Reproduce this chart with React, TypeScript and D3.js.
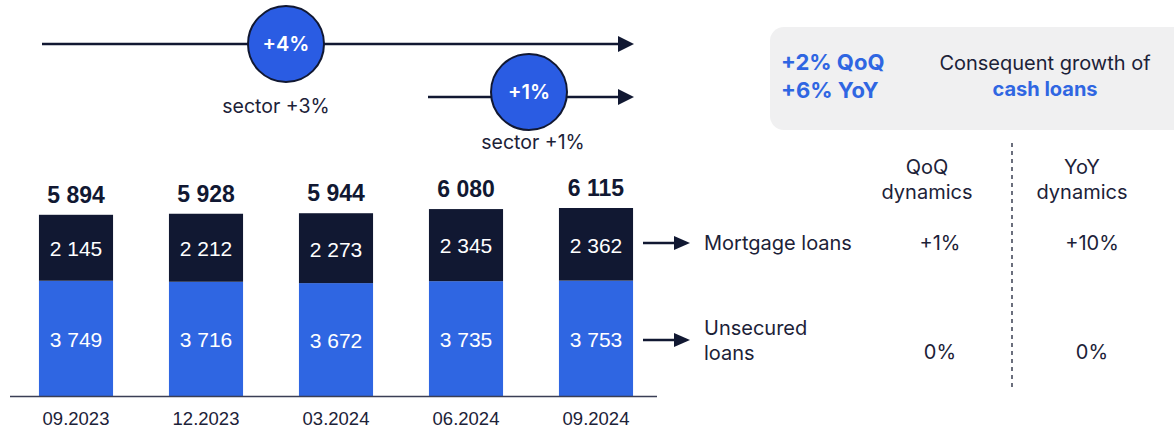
import React, { useEffect } from 'react';
import * as d3 from 'd3';

const periods = ['09.2023', '12.2023', '03.2024', '06.2024', '09.2024'];
const unsecured = [3749, 3716, 3672, 3735, 3753];
const mortgage = [2145, 2212, 2273, 2345, 2362];
const totals = [5894, 5928, 5944, 6080, 6115];

const rowLabels = [['Mortgage loans'], ['Unsecured', 'loans']];
const qoq = ['+1%', '0%'];
const yoy = ['+10%', '0%'];

const growthBubbles = [
  { value: '+4%', sector: 'sector +3%' },
  { value: '+1%', sector: 'sector +1%' },
];

const NAVY = '#111832';
const BLUE = '#2f66e2';
const TEXT = '#1c2238';
const ARIAL = '"Liberation Sans", Arial, sans-serif';
const SANS = 'Inter, "Noto Sans", sans-serif';

const fmt = (v: number) => d3.format(',')(v).replace(/,/g, ' ');

const App: React.FC = () => {
  useEffect(() => {
    document.body.style.margin = '0';
  }, []);

  const width = 1174;
  const height = 431;

  const x = d3.scaleBand<string>().domain(periods).range([11, 661]).paddingInner(0.43).paddingOuter(0.215);
  const y = d3.scaleLinear().domain([0, 6115]).range([396, 208]);

  const stacked = d3.stack<number>()
    .keys(['unsecured', 'mortgage'])
    .value((i, key) => (key === 'unsecured' ? unsecured[i] : mortgage[i]))(d3.range(periods.length));

  const segColors = [BLUE, NAVY];

  // top growth arrows
  const arrows = [
    { x1: 42, x2: 634, y: 44, cx: 286, cy: 44, sy: 106, sx: 276 },
    { x1: 428, x2: 634, y: 97, cx: 529, cy: 92, sy: 142, sx: 533 },
  ];

  const rowY = [243, 340];

  return (
    <svg width={width} height={height} style={{ display: 'block', background: '#fff' }}>
      {/* growth arrows */}
      {arrows.map((a, i) => (
        <g key={i}>
          <line x1={a.x1} x2={a.x2 - 14} y1={a.y} y2={a.y} stroke={NAVY} strokeWidth={2.5} />
          <path d={`M${a.x2 - 16},${a.y - 8} L${a.x2},${a.y} L${a.x2 - 16},${a.y + 8} Z`} fill={NAVY} />
          <circle cx={a.cx} cy={a.cy} r={38} fill="#2a5ce3" stroke={NAVY} strokeWidth={2} />
          <text x={a.cx} y={a.cy} dy="0.35em" textAnchor="middle" fill="#fff"
            fontFamily={SANS} fontWeight={600} fontSize={20}>{growthBubbles[i].value}</text>
          <text x={a.sx} y={a.sy} dy="0.35em" textAnchor="middle" fill={TEXT}
            fontFamily={SANS} fontSize={19.5}>{growthBubbles[i].sector}</text>
        </g>
      ))}

      {/* stacked bars */}
      {stacked.map((series, si) => (
        <g key={si}>
          {series.map((d, i) => (
            <g key={i}>
              <rect x={x(periods[i])} width={x.bandwidth()} y={y(d[1])} height={y(d[0]) - y(d[1])}
                fill={segColors[si]} />
              <text x={(x(periods[i]) as number) + x.bandwidth() / 2} y={(y(d[0]) + y(d[1])) / 2 + 1}
                dy="0.35em" textAnchor="middle" fill="#fff" fontFamily={ARIAL} fontSize={21}>
                {fmt(d[1] - d[0])}
              </text>
            </g>
          ))}
        </g>
      ))}

      {totals.map((t, i) => (
        <text key={i} x={(x(periods[i]) as number) + x.bandwidth() / 2} y={y(t) - 20} dy="0.35em"
          textAnchor="middle" fill={NAVY} fontFamily={ARIAL} fontWeight={700} fontSize={23}>{fmt(t)}</text>
      ))}

      <line x1={10} x2={657} y1={396.5} y2={396.5} stroke="#3a3f55" strokeWidth={1.5} />
      {periods.map((p) => (
        <text key={p} x={(x(p) as number) + x.bandwidth() / 2} y={419} dy="0.35em" textAnchor="middle"
          fill={TEXT} fontFamily={ARIAL} fontSize={18.5}>{p}</text>
      ))}

      {/* summary box */}
      <rect x={770} y={27} width={420} height={103} rx={14} fill="#f0f0f1" />
      <text x={781} y={62} dy="0.35em" fill={BLUE} fontFamily={SANS} fontWeight={700} fontSize={22}>+2% QoQ</text>
      <text x={781} y={90} dy="0.35em" fill={BLUE} fontFamily={SANS} fontWeight={700} fontSize={22}>+6% YoY</text>
      <text x={1045} y={63} dy="0.35em" textAnchor="middle" fill={TEXT} fontFamily={SANS} fontSize={20}>Consequent growth of</text>
      <text x={1045} y={89} dy="0.35em" textAnchor="middle" fill={BLUE} fontFamily={SANS} fontWeight={700} fontSize={20}>cash loans</text>

      {/* dynamics table */}
      <line x1={1012} x2={1012} y1={143} y2={390} stroke={TEXT} strokeWidth={1.3} strokeDasharray="4,4" />
      <text x={927} y={167} dy="0.35em" textAnchor="middle" fill={TEXT} fontFamily={SANS} fontSize={20}>QoQ</text>
      <text x={927} y={192} dy="0.35em" textAnchor="middle" fill={TEXT} fontFamily={SANS} fontSize={20}>dynamics</text>
      <text x={1082} y={167} dy="0.35em" textAnchor="middle" fill={TEXT} fontFamily={SANS} fontSize={20}>YoY</text>
      <text x={1082} y={192} dy="0.35em" textAnchor="middle" fill={TEXT} fontFamily={SANS} fontSize={20}>dynamics</text>

      {rowLabels.map((lines, i) => (
        <g key={i}>
          <line x1={643} x2={676} y1={rowY[i]} y2={rowY[i]} stroke={NAVY} strokeWidth={2.5} />
          <path d={`M${674},${rowY[i] - 7} L${690},${rowY[i]} L${674},${rowY[i] + 7} Z`} fill={NAVY} />
          {lines.map((l, j) => (
            <text key={j} x={704} y={rowY[i] + (lines.length > 1 ? (j - 0.5) * 25 : 0)} dy="0.35em"
              fill={TEXT} fontFamily={SANS} fontSize={20}>{l}</text>
          ))}
          <text x={940} y={i === 0 ? rowY[i] : 352} dy="0.35em" textAnchor="middle" fill={TEXT}
            fontFamily={SANS} fontSize={20}>{qoq[i]}</text>
          <text x={1092} y={i === 0 ? rowY[i] : 352} dy="0.35em" textAnchor="middle" fill={TEXT}
            fontFamily={SANS} fontSize={20}>{yoy[i]}</text>
        </g>
      ))}
    </svg>
  );
};

export default App;
